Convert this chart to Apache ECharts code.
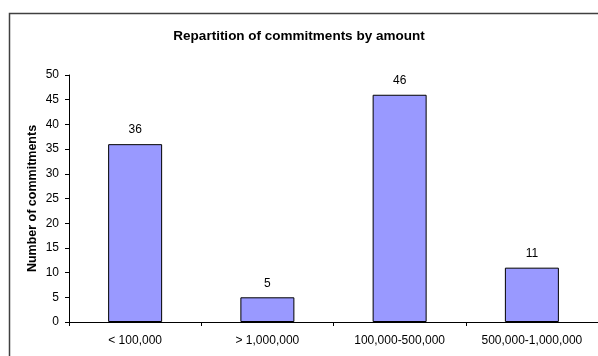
<!DOCTYPE html>
<html>
<head>
<meta charset="utf-8">
<script src="https://cdn.jsdelivr.net/npm/echarts@6/dist/echarts.min.js"></script>
<style>
  html, body { margin: 0; padding: 0; background: #fff; }
  #chart { width: 598px; height: 356px; }
</style>
</head>
<body>
<div id="chart"></div>
<script>
// data
const categories = ['< 100,000', '> 1,000,000', '100,000-500,000', '500,000-1,000,000'];
const commitments = [36, 5, 46, 11];

const chart = echarts.init(document.getElementById('chart'));

const option = {
  animation: false,
  textStyle: { fontFamily: 'Liberation Sans, Arial, sans-serif' },
  graphic: [
    {
      type: 'rect',
      shape: { x: 9.5, y: 13.5, width: 600, height: 360 },
      style: { fill: 'none', stroke: '#404040', lineWidth: 1.5 },
      silent: true
    }
  ],
  title: {
    text: 'Repartition of commitments by amount',
    left: 'center',
    top: 24,
    textStyle: { fontSize: 13.5, fontWeight: 'bold', color: '#000', fontFamily: 'Liberation Sans, Arial, sans-serif' }
  },
  grid: { left: 69, top: 75, width: 532, bottom: 34, containLabel: false },
  xAxis: {
    type: 'category',
    data: categories,
    axisLine: { show: true, lineStyle: { color: '#000', width: 1 } },
    axisTick: { show: true, length: 4, alignWithLabel: false, lineStyle: { color: '#000' } },
    axisLabel: { color: '#000', fontSize: 12, margin: 13 }
  },
  yAxis: {
    type: 'value',
    min: 0,
    max: 50,
    interval: 5,
    name: 'Number of commitments',
    nameLocation: 'middle',
    nameGap: 30,
    nameMoveOverlap: false,
    nameTextStyle: { fontSize: 12.5, fontWeight: 'bold', color: '#000' },
    axisLine: { show: true, lineStyle: { color: '#000', width: 1 } },
    axisTick: { show: true, length: 4, lineStyle: { color: '#000' } },
    axisLabel: { color: '#000', fontSize: 12, margin: 10 },
    splitLine: { show: false }
  },
  series: [
    {
      type: 'bar',
      data: commitments,
      barWidth: 54,
      itemStyle: { color: '#9999FF', borderColor: '#000', borderWidth: 1 },
      label: { show: true, position: 'top', distance: 8, color: '#000', fontSize: 12 }
    }
  ]
};

chart.setOption(option);
</script>
</body>
</html>
